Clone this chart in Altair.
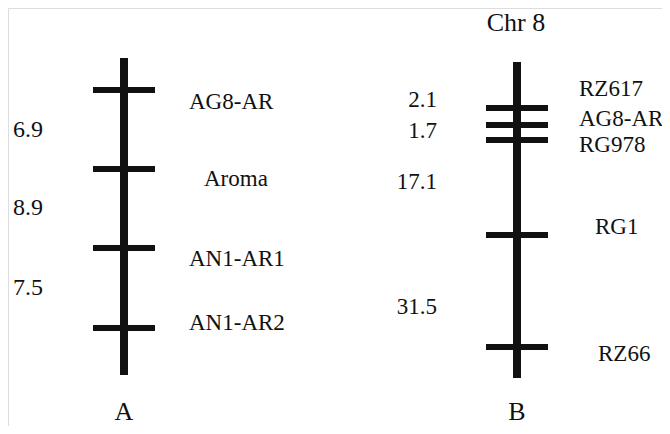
import altair as alt
import pandas as pd

# ---- data (schematic positions, plot units from top-left) ----
chrom_names = ["A", "B"]
chrom_x = [116, 509]
chrom_top = [50, 54]
chrom_bottom = [367, 370]
chrom_label_y = [412, 412]

markers_A = ["AG8-AR", "Aroma", "AN1-AR1", "AN1-AR2"]
tick_A = [82, 161, 240, 320]
label_y_A = [94, 171, 251, 315]
label_x_A = [181, 196, 181, 181]
dist_A = ["6.9", "8.9", "7.5"]
dist_y_A = [122, 200, 280]
dist_x_A = [5, 5, 5]

markers_B = ["RZ617", "AG8-AR", "RG978", "RG1", "RZ66"]
tick_B = [100, 117, 132, 227, 339]
label_y_B = [81, 111, 137, 219, 346]
label_x_B = [571, 571, 571, 587, 590]
dist_B = ["2.1", "1.7", "17.1", "31.5"]
dist_y_B = [92, 123, 174, 299]
dist_x_B = [429, 429, 429, 429]

title_B = "Chr 8"
title_B_pos = (508, 15)

TICK_HALF = 31
FONT = "Liberation Serif"
INK = "#111111"

# ---- tables ----
chrom_df = pd.DataFrame({"name": chrom_names, "x": chrom_x, "top": chrom_top,
                         "bottom": chrom_bottom, "ly": chrom_label_y})

tick_rows = []
for cx, ticks in ((chrom_x[0], tick_A), (chrom_x[1], tick_B)):
    for t in ticks:
        tick_rows.append({"x": cx - TICK_HALF, "x2": cx + TICK_HALF, "y": t})
tick_df = pd.DataFrame(tick_rows)

label_df = pd.DataFrame({
    "text": markers_A + markers_B,
    "x": label_x_A + label_x_B,
    "y": label_y_A + label_y_B,
})

distA_df = pd.DataFrame({"text": dist_A, "x": dist_x_A, "y": dist_y_A})
distB_df = pd.DataFrame({"text": dist_B, "x": dist_x_B, "y": dist_y_B})
title_df = pd.DataFrame({"text": [title_B], "x": [title_B_pos[0]], "y": [title_B_pos[1]]})

xs = alt.Scale(domain=[0, 654])
ys = alt.Scale(domain=[0, 418], reverse=True)

def X(f="x"):
    return alt.X(f"{f}:Q", scale=xs, axis=None)

def Y(f="y"):
    return alt.Y(f"{f}:Q", scale=ys, axis=None)

bars = alt.Chart(chrom_df).mark_rule(strokeWidth=8, color=INK).encode(
    x=X("x"), y=Y("top"), y2="bottom:Q")

ticks = alt.Chart(tick_df).mark_rule(strokeWidth=6, color=INK).encode(
    x=X("x"), x2="x2:Q", y=Y("y"))

labels = alt.Chart(label_df).mark_text(
    font=FONT, fontSize=23, align="left", baseline="middle", color=INK
).encode(x=X("x"), y=Y("y"), text="text:N")

distA = alt.Chart(distA_df).mark_text(
    font=FONT, fontSize=24, align="left", baseline="middle", color=INK
).encode(x=X("x"), y=Y("y"), text="text:N")

distB = alt.Chart(distB_df).mark_text(
    font=FONT, fontSize=23, align="right", baseline="middle", color=INK
).encode(x=X("x"), y=Y("y"), text="text:N")

chrom_labels = alt.Chart(chrom_df).mark_text(
    font=FONT, fontSize=26, align="center", baseline="alphabetic", color=INK
).encode(x=X("x"), y=Y("ly"), text="name:N")

title = alt.Chart(title_df).mark_text(
    font=FONT, fontSize=26, align="center", baseline="middle", color=INK
).encode(x=X("x"), y=Y("y"), text="text:N")

chart = alt.layer(bars, ticks, labels, distA, distB, chrom_labels, title).properties(
    width=654, height=418, padding=0,
    autosize=alt.AutoSizeParams(type="none"),
).configure_view(stroke=None).configure(background="white")

chart.save("out.html", embed_options={"renderer": "svg", "actions": False})
